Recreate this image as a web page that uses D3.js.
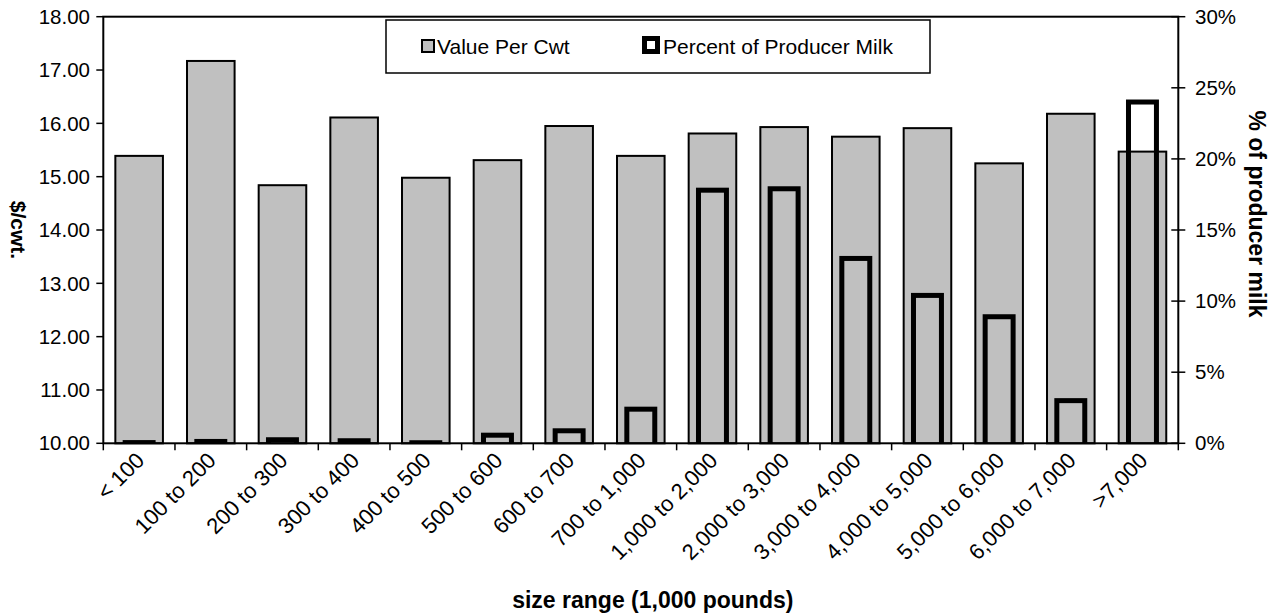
<!DOCTYPE html>
<html>
<head>
<meta charset="utf-8">
<script src="https://cdnjs.cloudflare.com/ajax/libs/d3/7.8.5/d3.min.js"></script>
<style>
  html, body { margin: 0; padding: 0; background: #fff; }
  svg { display: block; font-family: "Liberation Sans", Arial, sans-serif; }
</style>
</head>
<body>
<svg id="chart" width="1274" height="614"></svg>
<script>
const categories = ["< 100", "100 to 200", "200 to 300", "300 to 400", "400 to 500",
  "500 to 600", "600 to 700", "700 to 1,000", "1,000 to 2,000", "2,000 to 3,000",
  "3,000 to 4,000", "4,000 to 5,000", "5,000 to 6,000", "6,000 to 7,000", ">7,000"];
const valuePerCwt = [15.39, 17.17, 14.84, 16.11, 14.98, 15.31, 15.95, 15.39, 15.81, 15.93,
  15.75, 15.91, 15.25, 16.18, 15.47];
const percentProducerMilk = [0.0005, 0.0013, 0.0025, 0.0018, 0.0004, 0.0057, 0.0088, 0.024,
  0.178, 0.179, 0.130, 0.104, 0.089, 0.030, 0.240];
const leftTicks = [10, 11, 12, 13, 14, 15, 16, 17, 18];
const rightTicks = [0, 0.05, 0.10, 0.15, 0.20, 0.25, 0.30];
const seriesNames = ["Value Per Cwt", "Percent of Producer Milk"];

const svg = d3.select("#chart");
const L = 103.3, R = 1178.3, T = 16.7, B = 443.3;

const x = d3.scaleBand().domain(categories).range([L, R]).padding(0);
const yL = d3.scaleLinear().domain([10, 18]).range([B, T]);
const yR = d3.scaleLinear().domain([0, 0.30]).range([B, T]);
const step = x.bandwidth();
const grayW = step * 0.664;
const blackW = step * 0.39;

svg.append("defs").append("clipPath").attr("id", "plotclip")
  .append("rect").attr("x", L).attr("y", T - 5).attr("width", R - L).attr("height", B - T + 5);

// gray bars
svg.append("g").selectAll("rect").data(categories).join("rect")
  .attr("x", d => x(d) + (step - grayW) / 2)
  .attr("y", (d, i) => yL(valuePerCwt[i]))
  .attr("width", grayW)
  .attr("height", (d, i) => B - yL(valuePerCwt[i]))
  .attr("fill", "#c0c0c0")
  .attr("stroke", "#000")
  .attr("stroke-width", 2);

// black outline bars (secondary axis)
svg.append("g").attr("clip-path", "url(#plotclip)").selectAll("rect").data(categories).join("rect")
  .attr("x", d => x(d) + (step - blackW) / 2)
  .attr("y", (d, i) => yR(percentProducerMilk[i]))
  .attr("width", blackW)
  .attr("height", (d, i) => B - yR(percentProducerMilk[i]) + 4)
  .attr("fill", "none")
  .attr("stroke", "#000")
  .attr("stroke-width", 5);

// frame
svg.append("rect").attr("x", L).attr("y", T).attr("width", R - L).attr("height", B - T)
  .attr("fill", "none").attr("stroke", "#000").attr("stroke-width", 2);

const fs = 20.5;
// left axis
const gL = svg.append("g");
gL.selectAll("line").data(leftTicks).join("line")
  .attr("x1", L - 7).attr("x2", L).attr("y1", d => yL(d)).attr("y2", d => yL(d))
  .attr("stroke", "#000").attr("stroke-width", 1.5);
gL.selectAll("text").data(leftTicks).join("text")
  .attr("x", 90).attr("y", d => yL(d)).attr("dy", "0.35em")
  .attr("text-anchor", "end").attr("font-size", fs)
  .text(d => d3.format(".2f")(d));

// right axis
const gR = svg.append("g");
gR.selectAll("line").data(rightTicks).join("line")
  .attr("x1", R - 7).attr("x2", R + 7).attr("y1", d => yR(d)).attr("y2", d => yR(d))
  .attr("stroke", "#000").attr("stroke-width", 1.5);
gR.selectAll("text").data(rightTicks).join("text")
  .attr("x", 1195).attr("y", d => yR(d)).attr("dy", "0.35em")
  .attr("text-anchor", "start").attr("font-size", fs)
  .text(d => d3.format(".0%")(d));

// bottom ticks at category boundaries
const bounds = categories.map(c => x(c)).concat([R]);
svg.append("g").selectAll("line").data(bounds).join("line")
  .attr("x1", d => d).attr("x2", d => d).attr("y1", B).attr("y2", B + 7)
  .attr("stroke", "#000").attr("stroke-width", 1.5);

// x labels rotated
svg.append("g").selectAll("text").data(categories).join("text")
  .attr("transform", d => `translate(${x(d) + step / 2 + 1},${B + 13}) rotate(-45)`)
  .attr("text-anchor", "end").attr("dy", "0.35em").attr("font-size", 22)
  .text(d => d);

// axis titles
svg.append("text").attr("transform", `translate(18,${(T + B) / 2}) rotate(90)`)
  .attr("text-anchor", "middle").attr("dy", "0.35em")
  .attr("font-weight", "bold").attr("font-size", 21).text("$/cwt.");
svg.append("text").attr("transform", `translate(1257,${(T + B) / 2 - 16}) rotate(90)`)
  .attr("text-anchor", "middle").attr("dy", "0.35em")
  .attr("font-weight", "bold").attr("font-size", 23).text("% of producer milk");
svg.append("text").attr("x", (L + R) / 2 + 12).attr("y", 600)
  .attr("text-anchor", "middle").attr("dy", "0.35em")
  .attr("font-weight", "bold").attr("font-size", 23).text("size range (1,000 pounds)");

// legend
const lg = svg.append("g");
lg.append("rect").attr("x", 386).attr("y", 20).attr("width", 544).attr("height", 53)
  .attr("fill", "#fff").attr("stroke", "#000").attr("stroke-width", 1.5);
lg.append("rect").attr("x", 422).attr("y", 40).attr("width", 12).attr("height", 12)
  .attr("fill", "#c0c0c0").attr("stroke", "#000").attr("stroke-width", 2);
lg.append("text").attr("x", 437).attr("y", 46.5).attr("dy", "0.35em").attr("font-size", 21)
  .text(seriesNames[0]);
lg.append("rect").attr("x", 644.5).attr("y", 38.5).attr("width", 13).attr("height", 13)
  .attr("fill", "#fff").attr("stroke", "#000").attr("stroke-width", 5);
lg.append("text").attr("x", 663).attr("y", 46.5).attr("dy", "0.35em").attr("font-size", 21)
  .text(seriesNames[1]);
</script>
</body>
</html>
